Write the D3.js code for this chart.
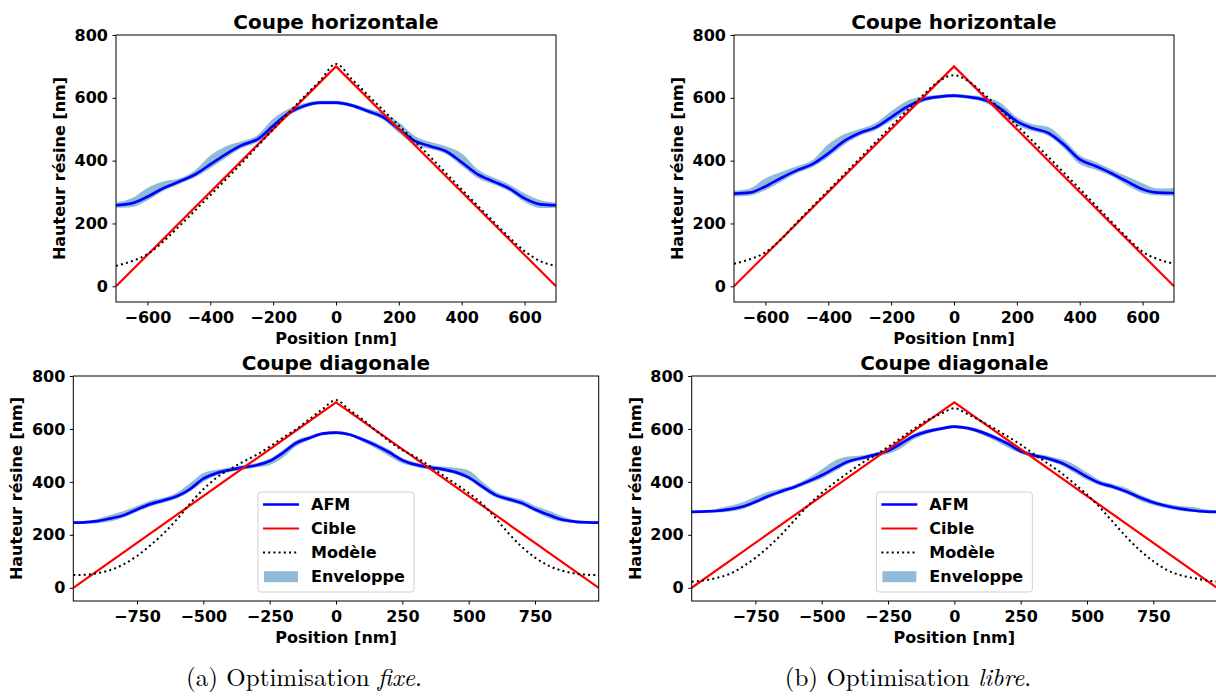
<!DOCTYPE html>
<html><head><meta charset="utf-8">
<script src="https://cdn.jsdelivr.net/npm/d3@7"></script>
<style>
body{margin:0;background:#fff}
svg{display:block}
.sans text, text.sans{font-family:"DejaVu Sans",sans-serif;font-weight:bold}
</style>
</head><body>
<svg id="c" width="1216" height="700"></svg>
<script>
// ---------- DATA ----------
const titleTop = "Coupe horizontale";
const titleBottom = "Coupe diagonale";
const yLabel = "Hauteur résine [nm]";
const xLabel = "Position [nm]";
const legendLabels = ["AFM", "Cible", "Modèle", "Enveloppe"];
const yTicks = [0, 200, 400, 600, 800];
const xTicksHoriz = [-600, -400, -200, 0, 200, 400, 600];
const xTicksDiag = [-750, -500, -250, 0, 250, 500, 750];

// Horizontal cut positions
const xHoriz = [-700,-650,-600,-550,-500,-450,-400,-350,-300,-250,-200,-150,-100,-50,0,50,100,150,200,250,300,350,400,450,500,550,600,650,700];
const xHorizModel = [-700,-650,-600,-550,-500,-400,-300,-200,-100,-50,0,50,100,200,300,400,500,550,600,650,700];
// Diagonal cut positions
const xDiag = [-990,-950,-900,-850,-800,-750,-700,-650,-600,-550,-500,-450,-400,-350,-300,-250,-200,-150,-100,-50,0,50,100,150,200,250,300,350,400,450,500,550,600,650,700,750,800,850,900,950,990];
const xTargetHoriz = [-700, 0, 700];
const targetHoriz = [0, 700, 0];
const xTargetDiag = [-990, 0, 990];
const targetDiag = [0, 700, 0];

// (a) fixe — horizontal
const afmFixeH = [258,264,285,312,333,355,388,421,449,468,511,552,575,585,585,576,558,539,500,463,446,430,395,357,334,312,280,261,258];
const envLowFixeH = [250,252,273,303,325,346,376,409,440,459,499,543,568,579,579,570,551,530,488,451,437,421,383,345,325,303,268,249,250];
const envHighFixeH = [267,280,313,334,343,368,416,446,462,481,533,565,583,591,591,582,566,552,522,479,459,446,423,373,347,325,296,274,267];
const modelFixeH = [65,80,102,142,190,290,392,500,605,655,708,660,610,512,412,308,207,157,112,80,65];

// (b) libre — horizontal
const afmLibreH = [295,298,318,345,369,389,423,462,488,506,538,571,594,603,607,602,592,564,525,503,488,451,404,383,360,334,309,298,297];
const envLowLibreH = [286,289,306,333,360,380,411,450,479,497,526,559,586,597,601,596,584,552,513,494,479,439,389,371,351,322,297,289,288];
const envHighLibreH = [304,311,344,364,382,402,452,484,501,519,557,590,604,609,613,608,602,583,538,516,507,467,417,396,373,350,328,311,313];
const modelLibreH = [72,86,108,150,203,305,407,509,607,652,672,650,608,512,412,310,207,156,110,86,72];

// (a) fixe — diagonal
const afmFixeD = [246,247,252,262,274,296,316,330,346,373,412,433,445,455,463,479,510,547,566,582,586,579,560,538,512,482,465,455,448,437,417,383,351,335,320,296,276,258,250,247,246];
const envLowFixeD = [241,242,244,250,265,287,307,321,337,364,400,424,437,447,455,464,492,535,558,576,580,573,552,526,497,470,457,447,440,429,408,374,342,326,311,287,264,249,244,242,241];
const envHighFixeD = [251,252,260,275,290,309,329,340,359,395,434,446,455,463,471,487,520,557,574,588,592,585,568,548,522,490,473,463,458,453,443,402,364,345,333,309,292,271,256,252,251];
const modelFixeD = [48,49,55,67,89,120,160,205,258,318,372,416,448,476,502,533,567,599,637,676,709,672,636,594,554,520,494,462,427,393,358,318,265,206,155,114,84,65,54,49,48];

// (b) libre — diagonal
const afmLibreD = [287,288,290,296,306,325,347,365,382,402,425,452,477,490,502,518,545,574,591,601,609,603,589,569,545,516,500,489,473,448,419,395,381,363,341,322,309,299,292,288,287];
const envLowLibreD = [282,283,284,287,297,316,338,357,374,393,413,440,468,482,494,506,527,562,582,595,603,597,580,557,530,507,492,481,464,436,407,386,372,354,329,313,300,291,286,283,282];
const envHighLibreD = [292,293,298,309,322,344,363,375,390,415,447,481,496,500,510,526,555,584,599,607,615,609,597,577,553,524,508,499,486,467,435,405,391,376,351,332,317,309,305,296,292];
const modelLibreD = [23,27,36,51,78,113,155,203,258,312,358,398,435,470,500,532,567,602,634,657,678,656,630,602,572,541,505,471,436,395,352,302,246,190,141,100,68,48,37,28,23];

const captionA = ["(a) Optimisation ", "fixe", "."];
const captionB = ["(b) Optimisation ", "libre", "."];

// ---------- DRAW ----------
const svg = d3.select("#c");
const panels = [
  {l:116, r:556, t:35, b:302, xd:[-700,700], xt:xTicksHoriz, title:titleTop,
   x:xHoriz, afm:afmFixeH, lo:envLowFixeH, hi:envHighFixeH, xm:xHorizModel, model:modelFixeH, xtg:xTargetHoriz, tg:targetHoriz, legend:false},
  {l:734, r:1174, t:35, b:302, xd:[-700,700], xt:xTicksHoriz, title:titleTop,
   x:xHoriz, afm:afmLibreH, lo:envLowLibreH, hi:envHighLibreH, xm:xHorizModel, model:modelLibreH, xtg:xTargetHoriz, tg:targetHoriz, legend:false},
  {l:73.3, r:598.7, t:376, b:601, xd:[-990,990], xt:xTicksDiag, title:titleBottom,
   x:xDiag, afm:afmFixeD, lo:envLowFixeD, hi:envHighFixeD, xm:xDiag, model:modelFixeD, xtg:xTargetDiag, tg:targetDiag, legend:true},
  {l:691.7, r:1217, t:376, b:601, xd:[-990,990], xt:xTicksDiag, title:titleBottom,
   x:xDiag, afm:afmLibreD, lo:envLowLibreD, hi:envHighLibreD, xm:xDiag, model:modelLibreD, xtg:xTargetDiag, tg:targetDiag, legend:true}
];

panels.forEach((p, i) => {
  const g = svg.append("g").attr("class", "sans");
  const xs = d3.scaleLinear().domain(p.xd).range([p.l, p.r]);
  const ys = d3.scaleLinear().domain([-50, 800]).range([p.b, p.t]);
  const clipId = "clip" + i;
  g.append("clipPath").attr("id", clipId).append("rect")
    .attr("x", p.l).attr("y", p.t).attr("width", p.r - p.l).attr("height", p.b - p.t);
  const plot = g.append("g").attr("clip-path", `url(#${clipId})`);

  const env = p.x.map((v, k) => ({x: v, lo: p.lo[k], hi: p.hi[k]}));
  plot.append("path").datum(env)
    .attr("d", d3.area().x(d => xs(d.x)).y0(d => ys(d.lo)).y1(d => ys(d.hi)).curve(d3.curveMonotoneX))
    .attr("fill", "#1f77b4").attr("fill-opacity", 0.5);

  plot.append("path").datum(p.x.map((v, k) => [v, p.afm[k]]))
    .attr("d", d3.line().x(d => xs(d[0])).y(d => ys(d[1])).curve(d3.curveMonotoneX))
    .attr("fill", "none").attr("stroke", "#0000ff").attr("stroke-width", 2.7);

  plot.append("path").datum(p.xtg.map((v, k) => [v, p.tg[k]]))
    .attr("d", d3.line().x(d => xs(d[0])).y(d => ys(d[1])))
    .attr("fill", "none").attr("stroke", "#ff0000").attr("stroke-width", 2.2);

  plot.append("path").datum(p.xm.map((v, k) => [v, p.model[k]]))
    .attr("d", d3.line().x(d => xs(d[0])).y(d => ys(d[1])).curve(d3.curveMonotoneX))
    .attr("fill", "none").attr("stroke", "#000").attr("stroke-width", 2)
    .attr("stroke-dasharray", "2,3.2");

  // frame
  g.append("rect").attr("x", p.l).attr("y", p.t).attr("width", p.r - p.l).attr("height", p.b - p.t)
    .attr("fill", "none").attr("stroke", "#000").attr("stroke-width", 1);

  // axes
  const fmt = d => d < 0 ? "\u2212" + Math.abs(d) : String(d);
  const xa = g.append("g").attr("transform", `translate(0,${p.b})`)
    .call(d3.axisBottom(xs).tickValues(p.xt).tickSize(3.5).tickPadding(6).tickFormat(fmt));
  const ya = g.append("g").attr("transform", `translate(${p.l},0)`)
    .call(d3.axisLeft(ys).tickValues(yTicks).tickSize(3.5).tickPadding(4.5).tickFormat(fmt));
  [xa, ya].forEach(a => {
    a.select(".domain").remove();
    a.selectAll("line").attr("stroke", "#000").attr("stroke-width", 1);
    a.selectAll("text").attr("font-size", 16).attr("font-family", "DejaVu Sans, sans-serif")
      .attr("font-weight", "bold").attr("fill", "#000");
  });

  // title
  g.append("text").attr("x", (p.l + p.r) / 2).attr("y", p.t - 6)
    .attr("text-anchor", "middle").attr("font-size", 20).text(p.title);
  // x label
  g.append("text").attr("x", (p.l + p.r) / 2).attr("y", p.b + 42)
    .attr("text-anchor", "middle").attr("font-size", 16).text(xLabel);
  // y label
  g.append("text").attr("transform", `translate(${p.l - 51},${(p.t + p.b) / 2}) rotate(-90)`)
    .attr("text-anchor", "middle").attr("font-size", 16).text(yLabel);

  if (p.legend) {
    const cx = (p.l + p.r) / 2;
    const lx = cx - 78, ly = 492;
    const lg = g.append("g");
    lg.append("rect").attr("x", lx).attr("y", ly).attr("width", 156).attr("height", 100)
      .attr("rx", 3).attr("fill", "#fff").attr("fill-opacity", 0.8)
      .attr("stroke", "#d0d0d0").attr("stroke-width", 1);
    const rows = [504.5, 528.5, 552.6, 576.7];
    const hx0 = lx + 5, hx1 = lx + 41;
    lg.append("line").attr("x1", hx0).attr("x2", hx1).attr("y1", rows[0]).attr("y2", rows[0])
      .attr("stroke", "#0000ff").attr("stroke-width", 2.7);
    lg.append("line").attr("x1", hx0).attr("x2", hx1).attr("y1", rows[1]).attr("y2", rows[1])
      .attr("stroke", "#ff0000").attr("stroke-width", 2.2);
    lg.append("line").attr("x1", hx0).attr("x2", hx1).attr("y1", rows[2]).attr("y2", rows[2])
      .attr("stroke", "#000").attr("stroke-width", 2).attr("stroke-dasharray", "2,3.2");
    lg.append("rect").attr("x", hx0 + 1).attr("y", rows[3] - 5.5).attr("width", 34).attr("height", 11)
      .attr("fill", "#1f77b4").attr("fill-opacity", 0.5);
    legendLabels.forEach((t, k) => {
      lg.append("text").attr("x", lx + 53).attr("y", rows[k]).attr("dy", "0.36em")
        .attr("font-size", 16).text(t);
    });
  }
});

// captions
function caption(parts, cx) {
  const t = svg.append("text").attr("x", cx).attr("y", 686).attr("text-anchor", "middle")
    .attr("font-family", "'Latin Modern Roman','CMU Serif','Liberation Serif',serif")
    .attr("font-size", 21).attr("fill", "#000");
  t.append("tspan").text(parts[0]);
  t.append("tspan").attr("font-style", "italic").text(parts[1]);
  t.append("tspan").text(parts[2]);
  return t;
}
const ca = caption(captionA, 304);
const cb = caption(captionB, 908);
const wa = ca.node().getComputedTextLength();
const fs = 21 * 236 / wa;
ca.attr("font-size", fs);
cb.attr("font-size", fs);
</script>
</body></html>
